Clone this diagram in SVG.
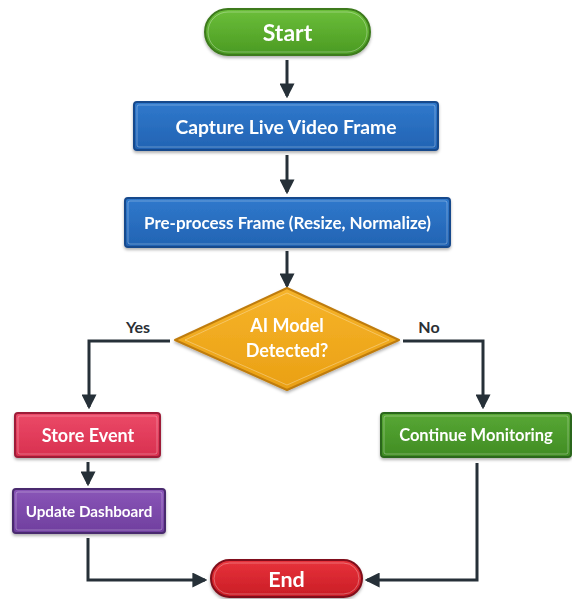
<svg xmlns="http://www.w3.org/2000/svg" width="572" height="599" viewBox="0 0 572 599">
<defs>
<marker id="ah" markerWidth="5" markerHeight="5" refX="4.2" refY="2.5" orient="auto" markerUnits="strokeWidth">
<path d="M0,0 L5,2.5 L0,5 Z" fill="#263038"/>
</marker>
<linearGradient id="gGreen" x1="0" y1="0" x2="0" y2="1"><stop offset="0" stop-color="#6cbf3a"/><stop offset="1" stop-color="#4a9a22"/></linearGradient>
<linearGradient id="gBlue" x1="0" y1="0" x2="0" y2="1"><stop offset="0" stop-color="#3079cc"/><stop offset="1" stop-color="#2263b3"/></linearGradient>
<linearGradient id="gOrange" x1="0" y1="0" x2="0" y2="1"><stop offset="0" stop-color="#f6b42a"/><stop offset="1" stop-color="#eaa014"/></linearGradient>
<linearGradient id="gPink" x1="0" y1="0" x2="0" y2="1"><stop offset="0" stop-color="#ec4a68"/><stop offset="1" stop-color="#d8304f"/></linearGradient>
<linearGradient id="gPurple" x1="0" y1="0" x2="0" y2="1"><stop offset="0" stop-color="#8a55b8"/><stop offset="1" stop-color="#6f3f9e"/></linearGradient>
<linearGradient id="gGreen2" x1="0" y1="0" x2="0" y2="1"><stop offset="0" stop-color="#58a834"/><stop offset="1" stop-color="#408c24"/></linearGradient>
<linearGradient id="gRed" x1="0" y1="0" x2="0" y2="1"><stop offset="0" stop-color="#e8333b"/><stop offset="1" stop-color="#c91c25"/></linearGradient>
<filter id="sh" x="-10%" y="-20%" width="120%" height="150%"><feDropShadow dx="0" dy="2" stdDeviation="1.5" flood-color="#000" flood-opacity="0.3"/></filter>
</defs>
<style>
.t{font-family:"Lato","Open Sans","Liberation Sans",sans-serif;font-weight:bold;fill:#ffffff;text-anchor:middle;dominant-baseline:central}
.lbl{font-family:"Lato","Open Sans","Liberation Sans",sans-serif;font-weight:bold;fill:#2b2f35;text-anchor:middle;font-size:16px}
.c{fill:none;stroke:#263038;stroke-width:3;marker-end:url(#ah)}
.hl{fill:none;stroke:#ffffff;stroke-opacity:0.3;stroke-width:1}
</style>
<rect width="572" height="599" fill="#ffffff"/>
<g id="connectors">
<path class="c" d="M287,60 V96"/>
<path class="c" d="M287,155 V192"/>
<path class="c" d="M287,251 V286"/>
<path class="c" d="M170,341 H89 V407"/>
<path class="c" d="M403,341 H483 V407"/>
<path class="c" d="M88,462 V484"/>
<path class="c" d="M88,538 V580 H205"/>
<path class="c" d="M477,463 V580 H367"/>
</g>
<g class="lbl">
<text x="138" y="333">Yes</text>
<text x="429" y="333">No</text>
</g>
<g id="start" filter="url(#sh)">
<rect x="205" y="9" width="165" height="46" rx="23" fill="url(#gGreen)" stroke="#3c7a1c" stroke-width="2"/>
<rect x="208" y="12" width="159" height="40" rx="20" class="hl"/>
<text class="t" x="287.5" y="32" font-size="23">Start</text>
</g>
<g id="capture" filter="url(#sh)">
<rect x="134" y="102" width="304" height="48" rx="3" fill="url(#gBlue)" stroke="#184a8c" stroke-width="2"/>
<rect x="137" y="105" width="298" height="42" rx="2" class="hl"/>
<text class="t" x="286" y="126" font-size="19.3">Capture Live Video Frame</text>
</g>
<g id="preprocess" filter="url(#sh)">
<rect x="125" y="198" width="325" height="49" rx="3" fill="url(#gBlue)" stroke="#184a8c" stroke-width="2"/>
<rect x="128" y="201" width="319" height="43" rx="2" class="hl"/>
<text class="t" x="287.5" y="222" font-size="17">Pre-process Frame (Resize, Normalize)</text>
</g>
<g id="decision" filter="url(#sh)">
<polygon points="287,288 399,340 287,390 175,340" fill="url(#gOrange)" stroke="#bf7c0c" stroke-width="2" stroke-linejoin="round"/>
<polygon points="287,293 389,340 287,385 185,340" class="hl"/>
<text class="t" x="287" y="325" font-size="18">AI Model</text>
<text class="t" x="287" y="350" font-size="18">Detected?</text>
</g>
<g id="store" filter="url(#sh)">
<rect x="15" y="413" width="145" height="44" rx="3" fill="url(#gPink)" stroke="#9e1d38" stroke-width="2"/>
<rect x="18" y="416" width="139" height="38" rx="2" class="hl"/>
<text class="t" x="88" y="435" font-size="18">Store Event</text>
</g>
<g id="update" filter="url(#sh)">
<rect x="13" y="489" width="152" height="44" rx="3" fill="url(#gPurple)" stroke="#4a2a6e" stroke-width="2"/>
<rect x="16" y="492" width="146" height="38" rx="2" class="hl"/>
<text class="t" x="89" y="511" font-size="15.2">Update Dashboard</text>
</g>
<g id="continue" filter="url(#sh)">
<rect x="381" y="413" width="190" height="44" rx="3" fill="url(#gGreen2)" stroke="#2c661a" stroke-width="2"/>
<rect x="384" y="416" width="184" height="38" rx="2" class="hl"/>
<text class="t" x="476" y="435" font-size="16.5">Continue Monitoring</text>
</g>
<g id="end" filter="url(#sh)">
<rect x="211" y="560" width="151" height="37" rx="18.5" fill="url(#gRed)" stroke="#80101a" stroke-width="2"/>
<rect x="214" y="563" width="145" height="31" rx="15.5" class="hl"/>
<text class="t" x="286.5" y="579" font-size="21.5">End</text>
</g>
</svg>
